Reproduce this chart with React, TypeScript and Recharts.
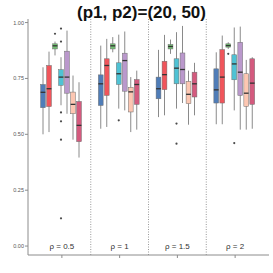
import { ComposedChart, Bar, XAxis, YAxis, ReferenceLine, ReferenceDot } from 'recharts'

const groups = ['ρ = 0.5', 'ρ = 1', 'ρ = 1.5', 'ρ = 2']
const yTicks = [0, 0.25, 0.5, 0.75, 1]

// each row: [lower whisker, q1, median, q3, upper whisker]
const blueStats = [
  [0.5, 0.619, 0.688, 0.723, 0.8],
  [0.525, 0.629, 0.726, 0.766, 0.897],
  [0.577, 0.659, 0.704, 0.756, 0.878],
  [0.545, 0.64, 0.699, 0.793, 0.867],
]
const redStats = [
  [0.51, 0.624, 0.704, 0.808, 0.87],
  [0.533, 0.674, 0.808, 0.838, 0.927],
  [0.585, 0.7, 0.767, 0.827, 0.945],
  [0.545, 0.64, 0.756, 0.879, 0.942],
]
const greenStats = [
  [0.853, 0.882, 0.896, 0.905, 0.915],
  [0.867, 0.882, 0.896, 0.905, 0.935],
  [0.86, 0.882, 0.893, 0.902, 0.924],
  [0.882, 0.89, 0.897, 0.905, 0.912],
]
const tealStats = [
  [0.63, 0.719, 0.756, 0.789, 0.845],
  [0.615, 0.723, 0.771, 0.82, 0.946],
  [0.615, 0.726, 0.796, 0.838, 0.957],
  [0.607, 0.744, 0.815, 0.856, 0.978],
]
const lavenderStats = [
  [0.592, 0.684, 0.756, 0.872, 0.964],
  [0.607, 0.693, 0.83, 0.863, 0.96],
  [0.64, 0.726, 0.79, 0.864, 0.985],
  [0.521, 0.674, 0.778, 0.912, 0.982],
]
const peachStats = [
  [0.476, 0.592, 0.634, 0.689, 0.763],
  [0.51, 0.6, 0.69, 0.71, 0.756],
  [0.543, 0.637, 0.679, 0.737, 0.785],
  [0.521, 0.625, 0.684, 0.771, 0.833],
]
const crimsonStats = [
  [0.396, 0.467, 0.54, 0.647, 0.733],
  [0.521, 0.634, 0.723, 0.745, 0.785],
  [0.585, 0.667, 0.726, 0.778, 0.82],
  [0.525, 0.634, 0.729, 0.838, 0.845],
]

const noOutliers = [[], [], [], []]
const greenOutliers = [[0.95], [], [], [0.86]]
const tealOutliers = [[0.973, 0.915, 0.598, 0.558, 0.476, 0.124], [0.5625], [0.548, 0.458], [0.461]]

const seriesList = [
  { key: 'blue', stats: blueStats, outliers: noOutliers, fill: '#4f7db8' },
  { key: 'red', stats: redStats, outliers: noOutliers, fill: '#f0555b' },
  { key: 'green', stats: greenStats, outliers: greenOutliers, fill: '#72c072' },
  { key: 'teal', stats: tealStats, outliers: tealOutliers, fill: '#4fc2d4' },
  { key: 'lavender', stats: lavenderStats, outliers: noOutliers, fill: '#ba98cc' },
  { key: 'peach', stats: peachStats, outliers: noOutliers, fill: '#fdc7b2' },
  { key: 'crimson', stats: crimsonStats, outliers: noOutliers, fill: '#d45a7e' },
]

const data = groups.map((g, i) => {
  const row: any = { group: g }
  seriesList.forEach((s) => {
    row[s.key] = s.stats[i]
    row[s.key + 'Out'] = s.outliers[i]
  })
  return row
})

function BoxShape(props: any) {
  const { x, y, width, height, payload, skey, color } = props
  const [lo, q1, med, q3, hi] = payload[skey]
  const outs: number[] = payload[skey + 'Out'] || []
  // map a value to pixels from the bar's own whisker range
  const k = height / (hi - lo)
  const py = (v: number) => y + (hi - v) * k
  const cx = x + width / 2
  const bw = width - 1.2
  return (
    <g>
      <line x1={cx} x2={cx} y1={py(hi)} y2={py(lo)} stroke="#8a8a8a" strokeWidth={1} />
      <rect x={cx - bw / 2} y={py(q3)} width={bw} height={py(q1) - py(q3)} fill={color} stroke="#6e6e6e" strokeWidth={0.5} />
      <line x1={cx - bw / 2} x2={cx + bw / 2} y1={py(med)} y2={py(med)} stroke="#333" strokeWidth={1.3} />
      {outs.map((o, j) => (
        <circle key={j} cx={cx} cy={py(o)} r={1.1} fill="#4a4a4a" />
      ))}
    </g>
  )
}

export default function App() {
  return (
    <div style={{ position: 'absolute', left: 0, top: 0, width: 273, height: 273, fontFamily: 'Liberation Sans, Arial, sans-serif', background: '#fff' }}>
      <div style={{ position: 'absolute', left: 5, top: 3, width: 273, textAlign: 'center', fontWeight: 'bold', fontSize: 17, color: '#111' }}>
        (p1, p2)=(20, 50)
      </div>
      <ComposedChart
        width={273}
        height={273}
        data={data}
        margin={{ top: 19, right: 4, bottom: 8, left: 0 }}
        barCategoryGap={7}
        barGap={0}
      >
        <XAxis
          dataKey="group"
          padding={{ left: 5, right: 5 }}
          height={10}
          tickFormatter={() => ''}
          tickSize={3}
          stroke="#8c8c8c"
        />
        <XAxis xAxisId="top" dataKey="group" orientation="top" height={0} tick={false} tickLine={false} stroke="#8c8c8c" padding={{ left: 5, right: 5 }} />
        <YAxis
          domain={[-0.04, 1.016]}
          ticks={yTicks}
          tickFormatter={(v: number) => v.toFixed(2)}
          width={28}
          tickSize={3}
          tickMargin={1}
          stroke="#8c8c8c"
          tick={{ fontSize: 5.5, fill: '#555' }}
          interval={0}
        />
        <YAxis yAxisId="right" orientation="right" width={0} domain={[-0.04, 1.016]} tick={false} tickLine={false} stroke="#8c8c8c" />
        {groups.slice(0, 3).map((g) => (
          <ReferenceLine key={g} x={g} position="end" stroke="#999" strokeDasharray="1 1.5" />
        ))}
        {groups.map((g) => (
          <ReferenceDot
            key={'lbl' + g}
            x={g}
            y={0}
            r={0}
            fill="none"
            stroke="none"
            label={{ value: g, position: 'center', fontSize: 8, fill: '#333' }}
          />
        ))}
        {seriesList.map((s) => (
          <Bar
            key={s.key}
            dataKey={(row: any) => [row[s.key][0], row[s.key][4]]}
            fill={s.fill}
            isAnimationActive={false}
            shape={(p: any) => <BoxShape {...p} skey={s.key} color={s.fill} />}
          />
        ))}
      </ComposedChart>
    </div>
  )
}
